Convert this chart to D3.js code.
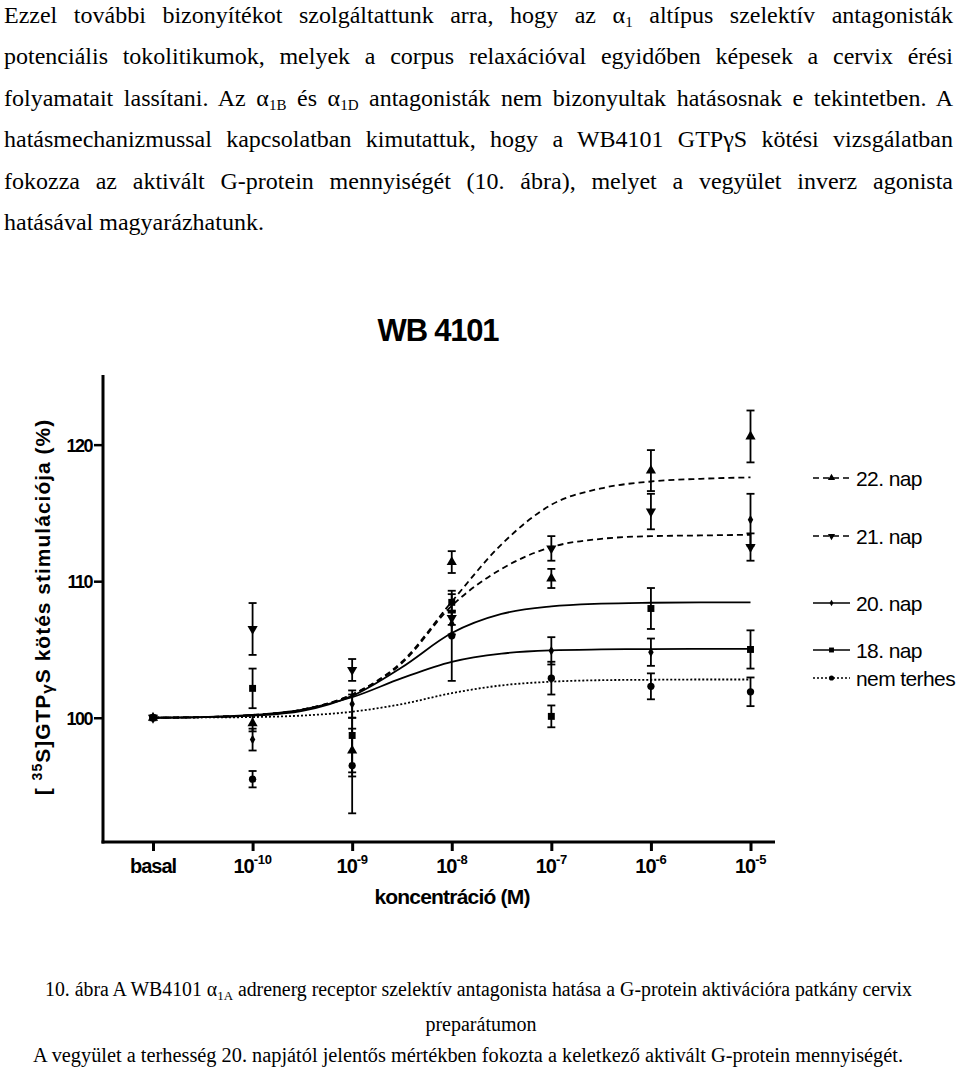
<!DOCTYPE html>
<html><head><meta charset="utf-8">
<script src="https://cdn.jsdelivr.net/npm/d3@7"></script>
<style>body{margin:0;background:#fff}svg{display:block}
.serif{font-family:"Liberation Serif","Times New Roman",serif}
.sans{font-family:"Liberation Sans",Arial,sans-serif}</style>
</head><body>
<svg id="c" width="960" height="1070"></svg>
<script>
// ---------- data ----------
const xTickBase = ["basal","10","10","10","10","10","10"];
const xTickExp  = ["","-10","-9","-8","-7","-6","-5"];
const yTicks = [100,110,120];
const seriesNames = ["22. nap","21. nap","20. nap","18. nap","nem terhes"];
const pointIdx = [0,1,2,3,4,5,6];
const mean22 = [100, 99.6, 97.6, 111.4, 110.2, 118.1, 120.6];
const err22  = [0, 0.6, 1.6, 0.8, 0.7, 1.5, 1.9];
const mean21 = [100, 106.5, 103.5, 107.3, 112.4, 115.1, 112.5];
const err21  = [0, 1.9, 0.8, 0.5, 0.9, 1.3, 1.0];
const mean20 = [100, 98.4, 101.0, 106.9, 104.9, 104.8, 114.5];
const err20  = [0, 0.8, 1.0, 0.8, 1.0, 1.0, 1.9];
const mean18 = [100, 102.15, 98.7, 108.45, 100.1, 108.0, 105.0];
const err18  = [0, 1.45, 3.0, 0.6, 0.8, 1.5, 1.4];
const meanNT = [100, 95.5, 96.5, 106.0, 102.9, 102.3, 101.9];
const errNT  = [0, 0.6, 3.5, 3.3, 1.2, 0.95, 1.05];
const curveIdx = [0, 0.5, 1, 1.5, 2, 2.5, 3, 3.5, 4, 4.5, 5, 5.5, 6];
const fit22 = [100, 100.05, 100.2, 100.6, 101.7, 104.1, 108.5, 112.7, 115.6, 116.8, 117.3, 117.5, 117.6];
const fit21 = [100, 100.05, 100.2, 100.6, 101.7, 104.0, 108.2, 110.9, 112.5, 113.1, 113.3, 113.35, 113.4];
const fit20 = [100, 100.05, 100.15, 100.5, 101.6, 103.7, 106.2, 107.6, 108.15, 108.35, 108.42, 108.45, 108.45];
const fit18 = [100, 100.05, 100.2, 100.6, 101.5, 102.9, 104.1, 104.7, 104.93, 105.0, 105.03, 105.04, 105.05];
const fitNT = [100, 100.02, 100.05, 100.16, 100.44, 101.0, 101.8, 102.37, 102.64, 102.75, 102.78, 102.8, 102.8];

const bodyLines = [
  "Ezzel további bizonyítékot szolgáltattunk arra, hogy az α{1} altípus szelektív antagonisták",
  "potenciális tokolitikumok, melyek a corpus relaxációval egyidőben képesek a cervix érési",
  "folyamatait lassítani. Az α{1B} és α{1D} antagonisták nem bizonyultak hatásosnak e tekintetben. A",
  "hatásmechanizmussal kapcsolatban kimutattuk, hogy a WB4101 GTPγS kötési vizsgálatban",
  "fokozza az aktivált G-protein mennyiségét (10. ábra), melyet a vegyület inverz agonista",
  "hatásával magyarázhatunk."
];
const captionLines = [
  "10. ábra A WB4101 α{1A} adrenerg receptor szelektív antagonista hatása a G-protein aktivációra patkány cervix",
  "preparátumon",
  "A vegyület a terhesség 20. napjától jelentős mértékben fokozta a keletkező aktivált G-protein mennyiségét."
];
const titleText = "WB 4101";
const xTitle = "koncentráció (M)";

// ---------- drawing ----------
const svg = d3.select("#c");

function richText(sel, str, subSize, subDy) {
  const parts = str.split(/(\{[^}]*\})/).filter(p => p);
  let pending = 0;
  parts.forEach(p => {
    if (p.startsWith("{")) {
      sel.append("tspan").attr("font-size", subSize).attr("dy", subDy + pending).text(p.slice(1,-1));
      pending = -subDy;
    } else {
      const t = sel.append("tspan").text(p);
      if (pending) t.attr("dy", pending);
      pending = 0;
    }
  });
}

// body text (justified)
const bodyBase = [23, 64, 106, 147, 189, 230];
bodyLines.forEach((ln, i) => {
  const t = svg.append("text").attr("class", "serif").attr("x", 4).attr("y", bodyBase[i])
    .attr("font-size", 24).attr("fill", "#000");
  richText(t, ln, 15, 4);
  if (i < bodyLines.length - 1) {
    const len = t.node().getComputedTextLength();
    const n = (ln.match(/ /g) || []).length;
    t.style("word-spacing", ((949 - len) / n) + "px");
  }
});

// caption
const capBase = [996, 1031, 1062];
const capX = [478.5, 481, 468];
const capW = [867, 0, 870];
captionLines.forEach((ln, i) => {
  const t = svg.append("text").attr("class", "serif").attr("x", capX[i]).attr("y", capBase[i])
    .attr("text-anchor", "middle").attr("font-size", 20).attr("fill", "#000");
  richText(t, ln, 13, 4);
  if (capW[i]) t.attr("textLength", capW[i]).attr("lengthAdjust", "spacingAndGlyphs");
});

// scales
const x = d3.scaleLinear().domain([0, 6]).range([153, 750.5]);
const y = d3.scaleLinear().domain([90.9, 125.1]).range([842, 375]);

// title
svg.append("text").attr("class", "sans").attr("x", 438).attr("y", 341).attr("text-anchor", "middle")
  .attr("font-weight", "bold").attr("font-size", 31)
  .attr("letter-spacing", -1.2).text(titleText);

// axes
const g = svg.append("g");
g.append("line").attr("x1", 103).attr("x2", 103).attr("y1", 375).attr("y2", 843.5)
  .attr("stroke", "#000").attr("stroke-width", 3);
g.append("line").attr("x1", 101.5).attr("x2", 775).attr("y1", 842).attr("y2", 842)
  .attr("stroke", "#000").attr("stroke-width", 3);

const yAxis = d3.axisLeft(y).tickValues(yTicks).tickSize(9).tickPadding(2).tickFormat(d3.format("d"));
const ya = svg.append("g").attr("transform", "translate(103,0)").call(yAxis);
ya.select(".domain").remove();
ya.selectAll(".tick line").attr("stroke", "#000").attr("stroke-width", 2.5);
ya.selectAll(".tick text").attr("class", "sans").attr("font-family", null).attr("font-weight", "bold")
  .attr("font-size", 18).attr("letter-spacing", -1.5).attr("fill", "#000").attr("dy", "0.36em");
ya.attr("font-family", null);

const xAxis = d3.axisBottom(x).tickValues(pointIdx).tickSize(9).tickFormat(() => "");
const xa = svg.append("g").attr("transform", "translate(0,842)").call(xAxis);
xa.select(".domain").remove();
xa.selectAll(".tick line").attr("stroke", "#000").attr("stroke-width", 3);
pointIdx.forEach(i => {
  const t = svg.append("text").attr("class", "sans").attr("x", x(i)).attr("y", 873).attr("text-anchor", "middle")
    .attr("font-weight", "bold").attr("font-size", 20)
    .attr("letter-spacing", -1).attr("fill", "#000");
  t.append("tspan").text(xTickBase[i]);
  if (xTickExp[i]) t.append("tspan").attr("font-size", 13).attr("dy", -9).attr("letter-spacing", -0.3).text(xTickExp[i]);
});

svg.append("text").attr("class", "sans").attr("x", 452).attr("y", 904).attr("text-anchor", "middle")
  .attr("font-weight", "bold").attr("font-size", 21)
  .attr("letter-spacing", -0.8).text(xTitle);

// y title
const yt = svg.append("text").attr("class", "sans").attr("transform", "translate(50,607) rotate(-90)")
  .attr("text-anchor", "middle").attr("font-weight", "bold")
  .attr("font-size", 21).attr("letter-spacing", 1).attr("fill", "#000");
yt.append("tspan").text("[ ");
yt.append("tspan").attr("font-size", 14).attr("dy", -8).text("35");
yt.append("tspan").attr("dy", 8).text("S]GTP");
yt.append("tspan").attr("font-size", 17).attr("dy", 3).text("γ");
yt.append("tspan").attr("dy", -3).text("S kötés stimulációja (%)");

// series
const series = [
  {name: seriesNames[0], mean: mean22, err: err22, fit: fit22, dash: "6,4", sym: d3.symbolTriangle, rot: 0, size: 45},
  {name: seriesNames[1], mean: mean21, err: err21, fit: fit21, dash: "6,4", sym: d3.symbolTriangle, rot: 180, size: 45},
  {name: seriesNames[2], mean: mean20, err: err20, fit: fit20, dash: null, sym: d3.symbolDiamond, rot: 0, size: 26},
  {name: seriesNames[3], mean: mean18, err: err18, fit: fit18, dash: null, sym: d3.symbolSquare, rot: 0, size: 48},
  {name: seriesNames[4], mean: meanNT, err: errNT, fit: fitNT, dash: "2,2", sym: d3.symbolCircle, rot: 0, size: 42}
];

const line = d3.line().x(d => x(d[0])).y(d => y(d[1])).curve(d3.curveMonotoneX);
series.forEach(s => {
  svg.append("path").datum(curveIdx.map((c, i) => [c, s.fit[i]]))
    .attr("d", line).attr("fill", "none").attr("stroke", "#000").attr("stroke-width", 1.8)
    .attr("stroke-dasharray", s.dash);
});

// error bars
series.forEach(s => {
  pointIdx.forEach((p, i) => {
    if (!s.err[i]) return;
    const cx = x(p), y1 = y(s.mean[i] + s.err[i]), y2 = y(s.mean[i] - s.err[i]);
    const eg = svg.append("g").attr("stroke", "#000").attr("stroke-width", 1.8);
    eg.append("line").attr("x1", cx).attr("x2", cx).attr("y1", y1).attr("y2", y2);
    eg.append("line").attr("x1", cx - 4).attr("x2", cx + 4).attr("y1", y1).attr("y2", y1);
    eg.append("line").attr("x1", cx - 4).attr("x2", cx + 4).attr("y1", y2).attr("y2", y2);
  });
});

// markers (square drawn last so it shows at basal)
[0, 1, 2, 4, 3].forEach(k => {
  const s = series[k];
  pointIdx.forEach((p, i) => {
    svg.append("path").attr("d", d3.symbol().type(s.sym).size(s.size)())
      .attr("transform", `translate(${x(p)},${y(s.mean[i])}) rotate(${s.rot})`)
      .attr("fill", "#000");
  });
});

// legend
const legY = [478, 536, 603, 650, 678];
series.forEach((s, k) => {
  svg.append("line").attr("x1", 813).attr("x2", 850).attr("y1", legY[k]).attr("y2", legY[k])
    .attr("stroke", "#000").attr("stroke-width", 1.5).attr("stroke-dasharray", s.dash);
  svg.append("path").attr("d", d3.symbol().type(s.sym).size(s.size * 0.5)())
    .attr("transform", `translate(831.5,${legY[k]}) rotate(${s.rot})`).attr("fill", "#000");
  svg.append("text").attr("class", "sans").attr("x", 856).attr("y", legY[k] + 8)
    .attr("font-size", 21).attr("letter-spacing", -0.6)
    .attr("fill", "#000").text(s.name);
});
</script>
</body></html>
